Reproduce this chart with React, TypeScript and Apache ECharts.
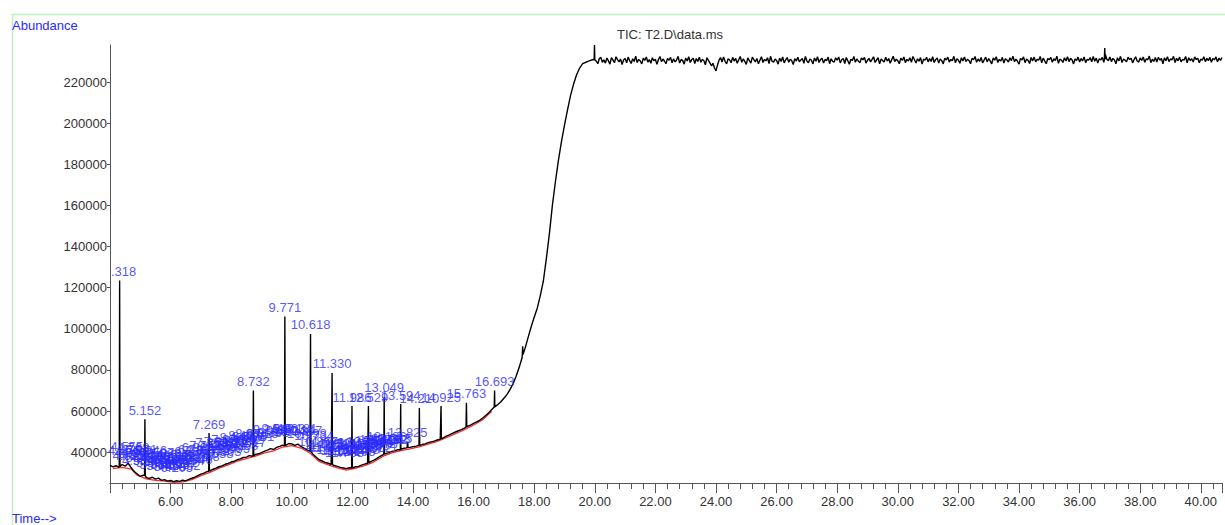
import React, { useEffect, useRef } from "react";
import * as echarts from "echarts";

// ---- data ----
// TIC abundance every 0.1 min from 4.0 to 20.0
const lowStart = 4.0;
const lowStep = 0.1;
const lowValues = [
  33600, 32800, 33400, 32600, 34000, 33200, 34600, 32400, 30600, 29400,
  28200, 28800, 27600, 27200, 27800, 26900, 27400, 26300, 26600, 25900,
  26200, 25700, 26100, 25800, 26400, 26000, 26800, 27300, 27900, 28600,
  29300, 29800, 30500, 30900, 31700, 32200, 32900, 33300, 34100, 34500,
  35200, 35600, 36300, 36700, 37400, 37600, 38300, 38000, 38900, 39200,
  39800, 40500, 41000, 41700, 41300, 42300, 42800, 43400, 43000, 44200,
  44000, 43300, 43900, 42800, 42000, 41100, 40400, 39000, 37600, 36300,
  35700, 35000, 34600, 34000, 33500, 33100, 32600, 32300, 32000, 32400,
  32200, 32900, 33100, 33700, 34200, 34600, 35400, 36000, 36900, 37800,
  38700, 39300, 39800, 40400, 40600, 41200, 41400, 41900, 42100, 42300,
  42700, 42900, 43300, 43700, 44000, 44600, 45000, 45400, 45900, 46300,
  47000, 47800, 48400, 49100, 49800, 50400, 51000, 51700, 52500, 53200,
  54000, 54700, 55500, 56600, 57800, 59200, 60800, 62000, 63200, 64500,
  66200, 68000, 70400, 73200, 76800, 81000, 85900, 90600, 95800, 101000,
  105600, 110000, 116000, 123000, 134000, 146000, 160000, 171500, 182000, 191000,
  199000, 206500, 213500, 219000, 223500, 226800, 228900, 229600, 230200, 230800,
  231200,
];

// plateau abundance every 0.05 min from 20.05 to 40.70
const plateauStart = 20.05;
const plateauStep = 0.05;
const plateauValues = [
  230100, 228900, 231400, 232000, 229600, 230800, 229200, 231700, 230300, 228700, 231900, 230600, 229400, 232300, 230900, 229800, 231200, 228500, 230700, 231500,
  229300, 232100, 230400, 229000, 231300, 230000, 232600, 229500, 231000, 230200, 228800, 231600, 230500, 232200, 229700, 230900, 229100, 231800, 230300, 231100,
  228600, 230800, 232400, 229900, 231200, 230100, 228900, 231500, 230600, 232000, 229400, 231300, 229800, 230700, 232500, 229200, 231000, 230400, 228700, 231700,
  230200, 232300, 229500, 230900, 231600, 229000, 231400, 230000, 232100, 229600, 231100, 230300, 228400, 231800, 230500, 229300, 227900, 229100, 226800, 225400,
  228300, 230600, 231900, 229700, 232200, 230100, 228800, 231300, 230700, 229400, 232000, 230200, 231500, 229100, 230800, 232400, 229600, 231200, 230000, 228600,
  231700, 230400, 229200, 232100, 230900, 229800, 231400, 228900, 230600, 232300, 229500, 231000, 230300, 231800, 229000, 232500, 230100, 229700, 231200, 230500,
  228700, 231600, 230000, 232200, 229300, 230800, 231900, 229600, 231100, 230400, 228500, 231400, 230200, 232000, 229800, 230700, 231500, 229100, 232400, 230300,
  229400, 231200, 230600, 228800, 231700, 230100, 232300, 229500, 230900, 231600, 229200, 231000, 230400, 232100, 228900, 231300, 230000, 229700, 231800, 230600,
  232200, 229300, 230800, 231400, 229000, 231900, 230300, 228600, 231100, 230500, 232400, 229600, 231300, 230100, 229400, 231700, 230800, 232000, 229200, 230600,
  231500, 229800, 231000, 232300, 229500, 230700, 231800, 228800, 231200, 230400, 229700, 232100, 230200, 231400, 229100, 230900, 232500, 229900, 231100, 230300,
  228900, 231600, 230500, 232200, 229400, 231000, 230200, 231800, 229600, 232400, 230800, 229300, 231300, 230100, 231900, 228700, 231100, 230600, 232000, 229800,
  231400, 230000, 232300, 229500, 230900, 231700, 229200, 231200, 230400, 228800, 231600, 230700, 232100, 229700, 231000, 230300, 232500, 229400, 231300, 230600,
  229100, 231800, 230200, 232200, 229900, 231100, 230500, 228900, 231500, 230800, 232400, 229600, 231200, 230000, 231900, 229300, 230700, 232100, 229800, 231400,
  230300, 228800, 231700, 230600, 232300, 229500, 231000, 230200, 232000, 229200, 231300, 230800, 229700, 231800, 230400, 232500, 229900, 231100, 230100, 228700,
  231500, 230700, 232200, 229400, 231200, 230500, 229000, 231900, 230300, 232100, 229800, 231000, 230600, 232400, 229300, 231600, 230200, 228900, 231400, 230900,
  232000, 229600, 231300, 230400, 232600, 229100, 231100, 230700, 229500, 231800, 230200, 232300, 229900, 231500, 230800, 228800, 231200, 230500, 232100, 229700,
  231400, 230300, 232200, 229400, 231000, 230600, 231900, 229800, 232400, 230100, 231600, 229200, 231300, 230800, 232000, 229600, 233400, 231100, 230400, 232200,
  229900, 231500, 230700, 228900, 231800, 230300, 232500, 229500, 231200, 230600, 229800, 232100, 230900, 231600, 229300, 231000, 232300, 230200, 229700, 231700,
  230500, 232200, 229600, 231300, 230800, 232600, 229400, 231100, 230000, 231900, 229700, 232000, 230600, 231400, 228900, 231700, 230400, 232300, 229900, 231200,
  230800, 232500, 229500, 231500, 230300, 232100, 229800, 231000, 230700, 232400, 229300, 231800, 230500, 231300, 229700, 232200, 230900, 231600, 229400, 231100,
  230600, 232300, 229900, 231500, 230400, 232000, 229600, 231400, 230800, 232200, 229800, 231600, 230500, 231900,
];

// labelled peaks: retention time, apex abundance, local baseline, label text
const peakTimes = [4.318, 5.152, 7.269, 8.732, 9.771, 10.618, 11.33, 11.986, 12.529, 13.049, 13.594, 13.825, 14.21, 14.925, 15.763, 16.693];
const peakTops = [123500, 56000, 49300, 70000, 106000, 97500, 78500, 62400, 62400, 67000, 63400, 45000, 61500, 62400, 64000, 70000];
const peakBases = [33000, 28600, 30700, 38200, 43200, 40300, 34000, 32300, 34700, 39000, 41200, 42200, 43300, 46500, 52200, 62000];
const peakLabels = [".318", "5.152", "7.269", "8.732", "9.771", "10.618", "11.330", "11.986", "12.529", "13.049", "13.594", "13.825", "14.210", "14.925", "15.763", "16.693"];

// unlabelled spikes
const spikeTimes = [17.62, 19.99, 36.83];
const spikeTops = [91500, 238000, 236500];
const spikeBases = [87500, 230800, 231000];

// crowded small-peak labels
const minorTimes = [
  4.473, 4.555, 4.621, 4.687, 4.768, 4.812, 4.899, 4.934, 5.021, 5.046, 5.214, 5.287, 5.346, 5.398, 5.469, 5.512,
  5.587, 5.634, 5.702, 5.745, 5.823, 5.861, 5.936, 5.978, 6.051, 6.093, 6.162, 6.205, 6.288, 6.331, 6.409, 6.452,
  6.527, 6.584, 6.655, 6.713, 6.781, 6.846, 6.904, 6.967, 7.027, 7.088, 7.151, 7.352, 7.412, 7.486, 7.538, 7.611,
  7.664, 7.742, 7.803, 7.876, 7.941, 8.012, 8.085, 8.148, 8.217, 8.289, 8.358, 8.437, 8.502, 8.566, 8.617, 8.674,
  8.881, 9.016, 9.248, 9.395, 9.54, 9.682, 9.903, 10.046, 10.181, 10.347, 10.498, 10.734, 10.867, 11.027, 11.089,
  11.176, 11.234, 11.452, 11.521, 11.597, 11.671, 11.738, 11.864, 11.935, 12.105, 12.176, 12.248, 12.318, 12.387,
  12.456, 12.597, 12.662, 12.741, 12.804, 12.873, 12.937, 13.004, 13.126, 13.182, 13.263, 13.315,
];
const minorTops = [
  36200, 38500, 33900, 35500, 37800, 33800, 35600, 31500, 36900, 33000, 34700, 31800, 36300, 30500, 33800, 29600,
  35400, 31200, 32800, 29100, 34900, 30200, 32200, 28600, 33700, 29800, 31900, 28200, 33500, 30400, 32400, 29000,
  34300, 31500, 35800, 33400, 36900, 32100, 37800, 34600, 36400, 33500, 38900, 40200, 36200, 38700, 34800, 41000,
  37500, 39600, 36000, 41700, 38800, 40300, 37200, 42600, 40100, 41500, 39000, 43700, 41800, 43000, 40500, 44500,
  43200, 44800, 46600, 45200, 47300, 46000, 46900, 45800, 47100, 46200, 44600, 43800, 41000, 39200, 40500,
  38100, 38600, 37000, 39800, 36200, 38900, 35600, 36400, 39400, 35800, 40100, 36700, 39200, 37300,
  40800, 39900, 38100, 41300, 39000, 42000, 40200, 41500, 43000, 41600, 42400, 42100,
];

// integration baseline (red)
const baseTimes = [4.1, 4.4, 4.7, 4.9, 5.2, 5.5, 5.8, 6.1, 6.4, 6.7, 7.0, 7.3, 7.6, 7.9, 8.2, 8.5, 8.8, 9.1, 9.4, 9.7, 10.0, 10.3, 10.6, 10.9, 11.2, 11.5, 11.8, 12.1, 12.4, 12.7, 13.0, 13.3, 13.6, 13.9, 14.2, 14.5, 14.8, 15.1, 15.4, 15.7, 16.0, 16.3, 16.6];
const baseValues = [32000, 32600, 31800, 28800, 27000, 26300, 25900, 25300, 25600, 26600, 28600, 30200, 32200, 33800, 35600, 36900, 38100, 39700, 40600, 42500, 43200, 42000, 39600, 35500, 33800, 32300, 31300, 32100, 33400, 35200, 37900, 39600, 40700, 41600, 42600, 43900, 45200, 47000, 49000, 50900, 53200, 55800, 59900];

const yTickValues = [40000, 60000, 80000, 100000, 120000, 140000, 160000, 180000, 200000, 220000];

const FONT = 'Arial, "Liberation Sans", sans-serif';
const BLUE = "#2a2aff";

export default function App() {
  const ref = useRef<HTMLDivElement>(null);

  useEffect(() => {
    if (!ref.current) return;
    const chart = echarts.init(ref.current, undefined, { renderer: "svg" });

    const trace: [number, number][] = [];
    lowValues.forEach((v, i) => trace.push([Math.round((lowStart + i * lowStep) * 100) / 100, v]));
    plateauValues.forEach((v, i) =>
      trace.push([Math.round((plateauStart + i * plateauStep) * 100) / 100, v])
    );
    const addSpike = (t: number, top: number, base: number) => {
      trace.push([t - 0.012, base], [t, top], [t + 0.012, base]);
    };
    peakTimes.forEach((t, i) => addSpike(t, peakTops[i], peakBases[i]));
    spikeTimes.forEach((t, i) => addSpike(t, spikeTops[i], spikeBases[i]));
    trace.sort((a, b) => a[0] - b[0]);

    const labelItems = peakTimes.map((t, i) => ({
      value: [t, peakTops[i]],
      name: peakLabels[i],
      label: i === 0 ? { offset: [4, 0] } : undefined,
    }));
    const minorItems = minorTimes.map((t, i) => ({
      value: [t, minorTops[i]],
      name: t.toFixed(3),
    }));

    const labelStyle = {
      show: true,
      position: "top",
      distance: 2,
      color: BLUE,
      fontSize: 13,
      fontFamily: FONT,
      formatter: "{b}",
    };

    chart.setOption({
      animation: false,
      grid: { left: 110, right: 3, top: 45, bottom: 42 },
      xAxis: {
        type: "value",
        min: 4,
        max: 40.7,
        interval: 2,
        axisLine: { lineStyle: { color: "#555", width: 1 } },
        axisTick: { show: true, length: 10, lineStyle: { color: "#555" } },
        minorTick: { show: true, splitNumber: 5, length: 6, lineStyle: { color: "#555" } },
        splitLine: { show: false },
        minorSplitLine: { show: false },
        axisLabel: {
          color: "#333",
          fontSize: 13,
          fontFamily: FONT,
          margin: 12,
          showMinLabel: false,
          showMaxLabel: false,
          formatter: (v: number) => v.toFixed(2),
        },
      },
      yAxis: {
        type: "value",
        min: 25000,
        max: 238000,
        axisLine: { show: true, lineStyle: { color: "#555", width: 1 } },
        axisTick: { show: true, length: 3, customValues: yTickValues, lineStyle: { color: "#555" } },
        splitLine: { show: false },
        axisLabel: {
          customValues: yTickValues,
          color: "#333",
          fontSize: 13,
          fontFamily: FONT,
          margin: 3,
          formatter: (v: number) => String(v),
        },
      },
      graphic: [
        {
          type: "polyline",
          shape: { points: [[12.5, 525], [12.5, 14.5], [1225, 14.5]] },
          style: { stroke: "#bdf2bd", lineWidth: 1.5, fill: null },
          silent: true,
        },
        {
          type: "text",
          x: 12,
          y: 19,
          style: { text: "Abundance", fill: BLUE, font: `13px ${FONT}`, verticalAlign: "top" },
        },
        {
          type: "text",
          x: 12,
          y: 512,
          style: { text: "Time-->", fill: BLUE, font: `13px ${FONT}`, verticalAlign: "top" },
        },
        {
          type: "text",
          x: 617,
          y: 28,
          style: { text: "TIC: T2.D\\data.ms", fill: "#333", font: `13px ${FONT}`, verticalAlign: "top" },
        },
      ],
      series: [
        {
          type: "line",
          data: baseTimes.map((t, i) => [t, baseValues[i]]),
          showSymbol: false,
          lineStyle: { color: "#ff2a2a", width: 1.3 },
          z: 1,
          silent: true,
        },
        {
          type: "line",
          data: trace,
          showSymbol: false,
          lineStyle: { color: "#000", width: 1.4 },
          z: 2,
          silent: true,
        },
        {
          type: "scatter",
          data: minorItems,
          symbolSize: 1,
          itemStyle: { color: "rgba(0,0,0,0)" },
          label: labelStyle,
          z: 3,
          silent: true,
        },
        {
          type: "scatter",
          data: labelItems,
          symbolSize: 1,
          itemStyle: { color: "rgba(0,0,0,0)" },
          label: labelStyle,
          z: 4,
          silent: true,
        },
      ],
    });

    return () => chart.dispose();
  }, []);

  return (
    <div
      ref={ref}
      style={{ position: "absolute", left: 0, top: 0, width: 1225, height: 525, background: "#fff" }}
    />
  );
}
